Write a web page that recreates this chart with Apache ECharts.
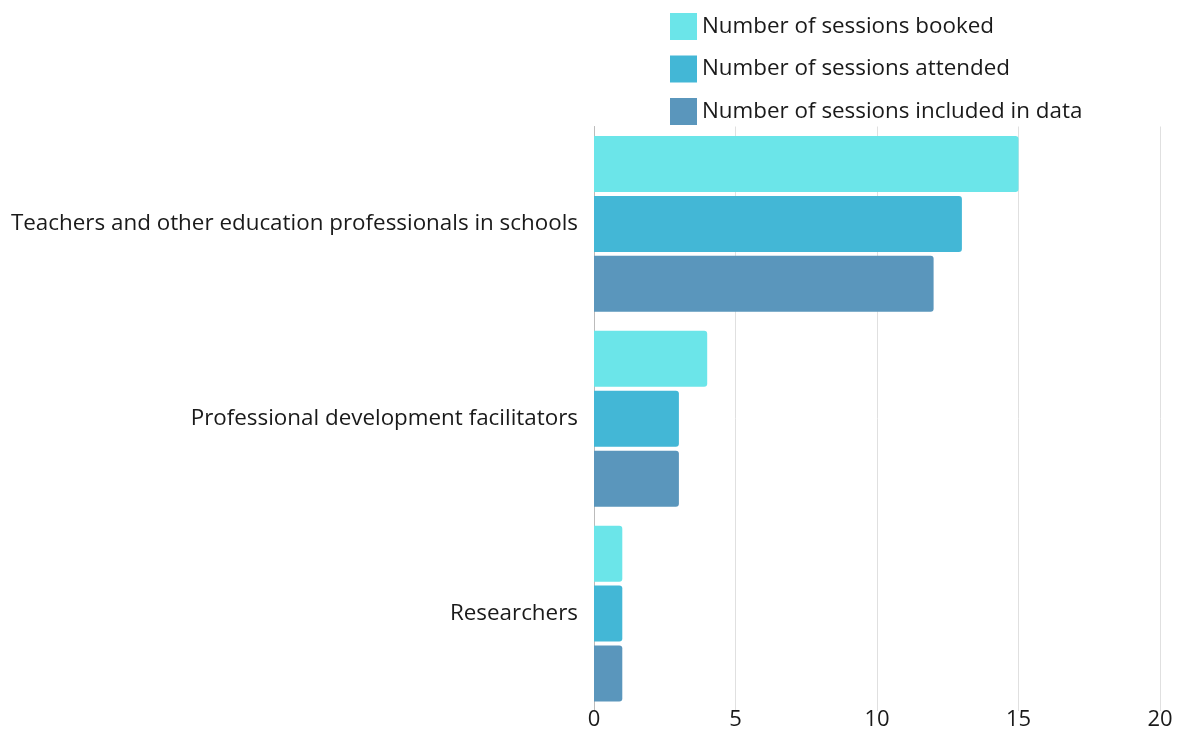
<!DOCTYPE html>
<html>
<head>
<meta charset="utf-8">
<script src="https://cdn.jsdelivr.net/npm/echarts@6/dist/echarts.min.js"></script>
<style>
  html, body { margin: 0; padding: 0; background: #fff; }
  #main { width: 1177px; height: 731px; }
</style>
</head>
<body>
<div id="main"></div>
<script>
// categories, top to bottom
var categories = [
  'Teachers and other education professionals in schools',
  'Professional development facilitators',
  'Researchers'
];
var booked = [15, 4, 1];
var attended = [13, 3, 1];
var included = [12, 3, 1];
var xTicks = [0, 5, 10, 15, 20];

var myChart = echarts.init(document.getElementById('main'));
var font = '"Open Sans", "Noto Sans", sans-serif';

myChart.setOption({
  textStyle: { fontFamily: font },
  color: ['#6be5e9', '#43b7d6', '#5a96bc'],
  legend: {
    orient: 'vertical',
    left: 665,
    top: 8,
    itemWidth: 27,
    itemHeight: 27,
    itemGap: 15.5,
    icon: 'rect',
    textStyle: { fontSize: 22.4, color: '#1a1a1a', fontFamily: font, padding: [2, 0, 0, 0] }
  },
  grid: { left: 594, right: 17, top: 126.5, bottom: 16.5 },
  xAxis: {
    type: 'value',
    min: xTicks[0],
    max: xTicks[xTicks.length - 1],
    interval: 5,
    axisLine: { show: false },
    axisTick: { show: false },
    axisLabel: { fontSize: 22, color: '#1a1a1a', margin: -2 },
    splitLine: { lineStyle: { color: '#e0e0e0', width: 1 } }
  },
  yAxis: {
    type: 'category',
    inverse: true,
    data: categories,
    axisLine: { show: true, lineStyle: { color: '#bbb' } },
    axisTick: { show: false },
    axisLabel: { fontSize: 22.4, color: '#1a1a1a', margin: 16 }
  },
  series: [
    { name: 'Number of sessions booked', type: 'bar', data: booked, barWidth: 56, barGap: '7%',
      itemStyle: { borderRadius: [0, 3, 3, 0] } },
    { name: 'Number of sessions attended', type: 'bar', data: attended, barWidth: 56, barGap: '7%',
      itemStyle: { borderRadius: [0, 3, 3, 0] } },
    { name: 'Number of sessions included in data', type: 'bar', data: included, barWidth: 56, barGap: '7%',
      itemStyle: { borderRadius: [0, 3, 3, 0] } }
  ]
});
</script>
</body>
</html>
